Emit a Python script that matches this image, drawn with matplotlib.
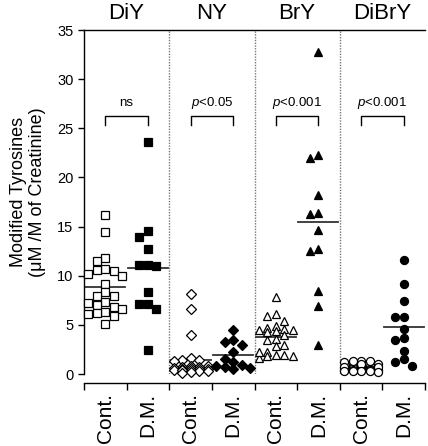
import numpy as np
import matplotlib
matplotlib.use("Agg")
import matplotlib.pyplot as plt
from matplotlib.transforms import blended_transform_factory

plt.rcParams['font.family'] = ['Liberation Sans', 'DejaVu Sans']
plt.rcParams['mathtext.fontset'] = 'custom'
plt.rcParams['mathtext.it'] = 'Liberation Sans:italic'
plt.rcParams['mathtext.rm'] = 'Liberation Sans'

# ---------------- data ----------------
groups = ["DiY", "NY", "BrY", "DiBrY"]
conditions = ["Cont.", "D.M."]
p_labels = ["ns", "p<0.05", "p<0.001", "p<0.001"]

diy_cont = [16.2, 14.4, 11.8, 11.5, 10.7, 10.2, 10.5, 10.6, 10.0, 9.2, 8.3, 7.9,
            7.9, 6.8, 7.3, 7.0, 7.2, 6.6, 6.3, 5.9, 6.2, 6.1, 5.1]
diy_dm = [23.6, 14.5, 13.9, 12.7, 11.1, 11.0, 11.1, 8.3, 7.1, 6.6, 7.1, 2.4]

ny_cont = [8.1, 6.6, 4.0, 1.6, 1.4, 1.3, 1.4, 0.8, 0.8, 0.7, 0.7, 0.6, 0.6,
           0.5, 0.5, 0.5, 0.4, 0.4, 0.4, 0.3, 0.3, 0.2, 0.1]
ny_dm = [4.5, 3.5, 3.3, 3.0, 2.2, 1.5, 0.7, 0.6, 0.9, 0.5, 1.2, 0.8]

bry_cont = [7.8, 5.9, 6.1, 5.4, 4.6, 4.7, 4.9, 4.5, 4.0, 3.5, 3.6, 2.9, 2.8,
            1.9, 2.2, 1.8, 1.9, 1.6, 2.2, 1.8, 4.4, 4.5, 4.3]
bry_dm = [32.8, 22.3, 22.0, 18.2, 16.3, 16.4, 14.7, 12.7, 12.5, 8.4, 6.9, 2.9]

dibry_cont = [1.2, 0.85, 0.55, 0.4, 1.35, 1.0, 0.68, 0.4, 1.3, 0.95, 0.62, 0.4,
              1.35, 1.0, 0.68, 0.4, 0.68, 0.4, 0.3, 0.3, 0.3, 0.25, 0.28]
dibry_dm = [11.6, 9.2, 7.4, 5.8, 5.8, 4.6, 3.7, 3.5, 2.3, 1.25, 1.5, 0.8]

series = [diy_cont, diy_dm, ny_cont, ny_dm, bry_cont, bry_dm, dibry_cont, dibry_dm]

# ---------------- styles ----------------
markers = ['s', 'D', '^', 'o']
msizes = [5.5, 4.6, 6.0, 5.8]


def swarm(values, dy=0.75, step=0.2, maxcol=2):
    vals = np.asarray(values, float)
    order = np.argsort(-vals)
    cols = np.zeros(len(vals))
    placed = []
    cand = [0]
    for k in range(1, maxcol + 1):
        cand += [-k, k]
    for i in order:
        v = vals[i]
        best, bestd = None, -1
        for c in cand:
            d = min([abs(v - pv) for pv, pc in placed if pc == c] or [np.inf])
            if d >= dy:
                best = c
                break
            if d > bestd + 1e-9:
                best, bestd = c, d
        cols[i] = best
        placed.append((v, best))
    return cols * step


fig = plt.figure(figsize=(4.28, 4.46), dpi=100)
ax = fig.add_axes([84 / 428, 72 / 446, 341 / 428, 344 / 446])

for k, vals in enumerate(series):
    g = k // 2
    filled = (k % 2 == 1)
    xs = k + swarm(vals)
    ax.plot(xs, vals, linestyle='none', marker=markers[g], ms=msizes[g],
            mfc='black' if filled else 'white', mec='black', mew=0.9,
            zorder=3, clip_on=False)
    m = np.mean(vals)
    ax.plot([k - 0.47, k + 0.47], [m, m], color='#333333', lw=1.3, zorder=2)

# separators
for s in [1.5, 3.5, 5.5]:
    ax.axvline(s, color='#777777', lw=1.0, linestyle=(0, (1, 1)), zorder=1)

# significance brackets
for g, lab in enumerate(p_labels):
    x0, x1 = 2 * g, 2 * g + 1
    ax.plot([x0, x0, x1, x1], [25.3, 26.2, 26.2, 25.3], color='black', lw=1.0)
    txt = f"$p${lab[1:]}" if lab.startswith('p') else lab
    ax.text((x0 + x1) / 2, 27.6, txt, ha='center', va='center', fontsize=9.5)

# titles
trans = blended_transform_factory(ax.transData, ax.transAxes)
for g, name in enumerate(groups):
    ax.text(2 * g + 0.5, 1.047, name, transform=trans, ha='center',
            va='center', fontsize=16)

ax.set_xlim(-0.5, 7.5)
ax.set_ylim(0, 35)
ax.set_yticks(np.arange(0, 36, 5))
ax.tick_params(axis='y', labelsize=10.5, length=4, width=1, direction='out')

ax.set_xticks(np.arange(-0.5, 8, 1))
ax.set_xticks(np.arange(8), minor=True)
ax.tick_params(axis='x', which='major', length=5, width=1, labelbottom=False)
ax.tick_params(axis='x', which='minor', length=0, pad=7, labelsize=15,
               labelrotation=90)
ax.set_xticklabels(conditions * 4, minor=True)

ax.spines['right'].set_visible(False)
ax.spines['bottom'].set_position(('outward', 6.5))
for sp in ['left', 'top', 'bottom']:
    ax.spines[sp].set_linewidth(1.0)

fig.text(28 / 428, 1 - 192 / 446, "Modified Tyrosines\n(\u03bcM /M of Creatinine)",
         rotation=90, ha='center', va='center', fontsize=13, linespacing=1.2)

fig.savefig("out.png", dpi=100)
